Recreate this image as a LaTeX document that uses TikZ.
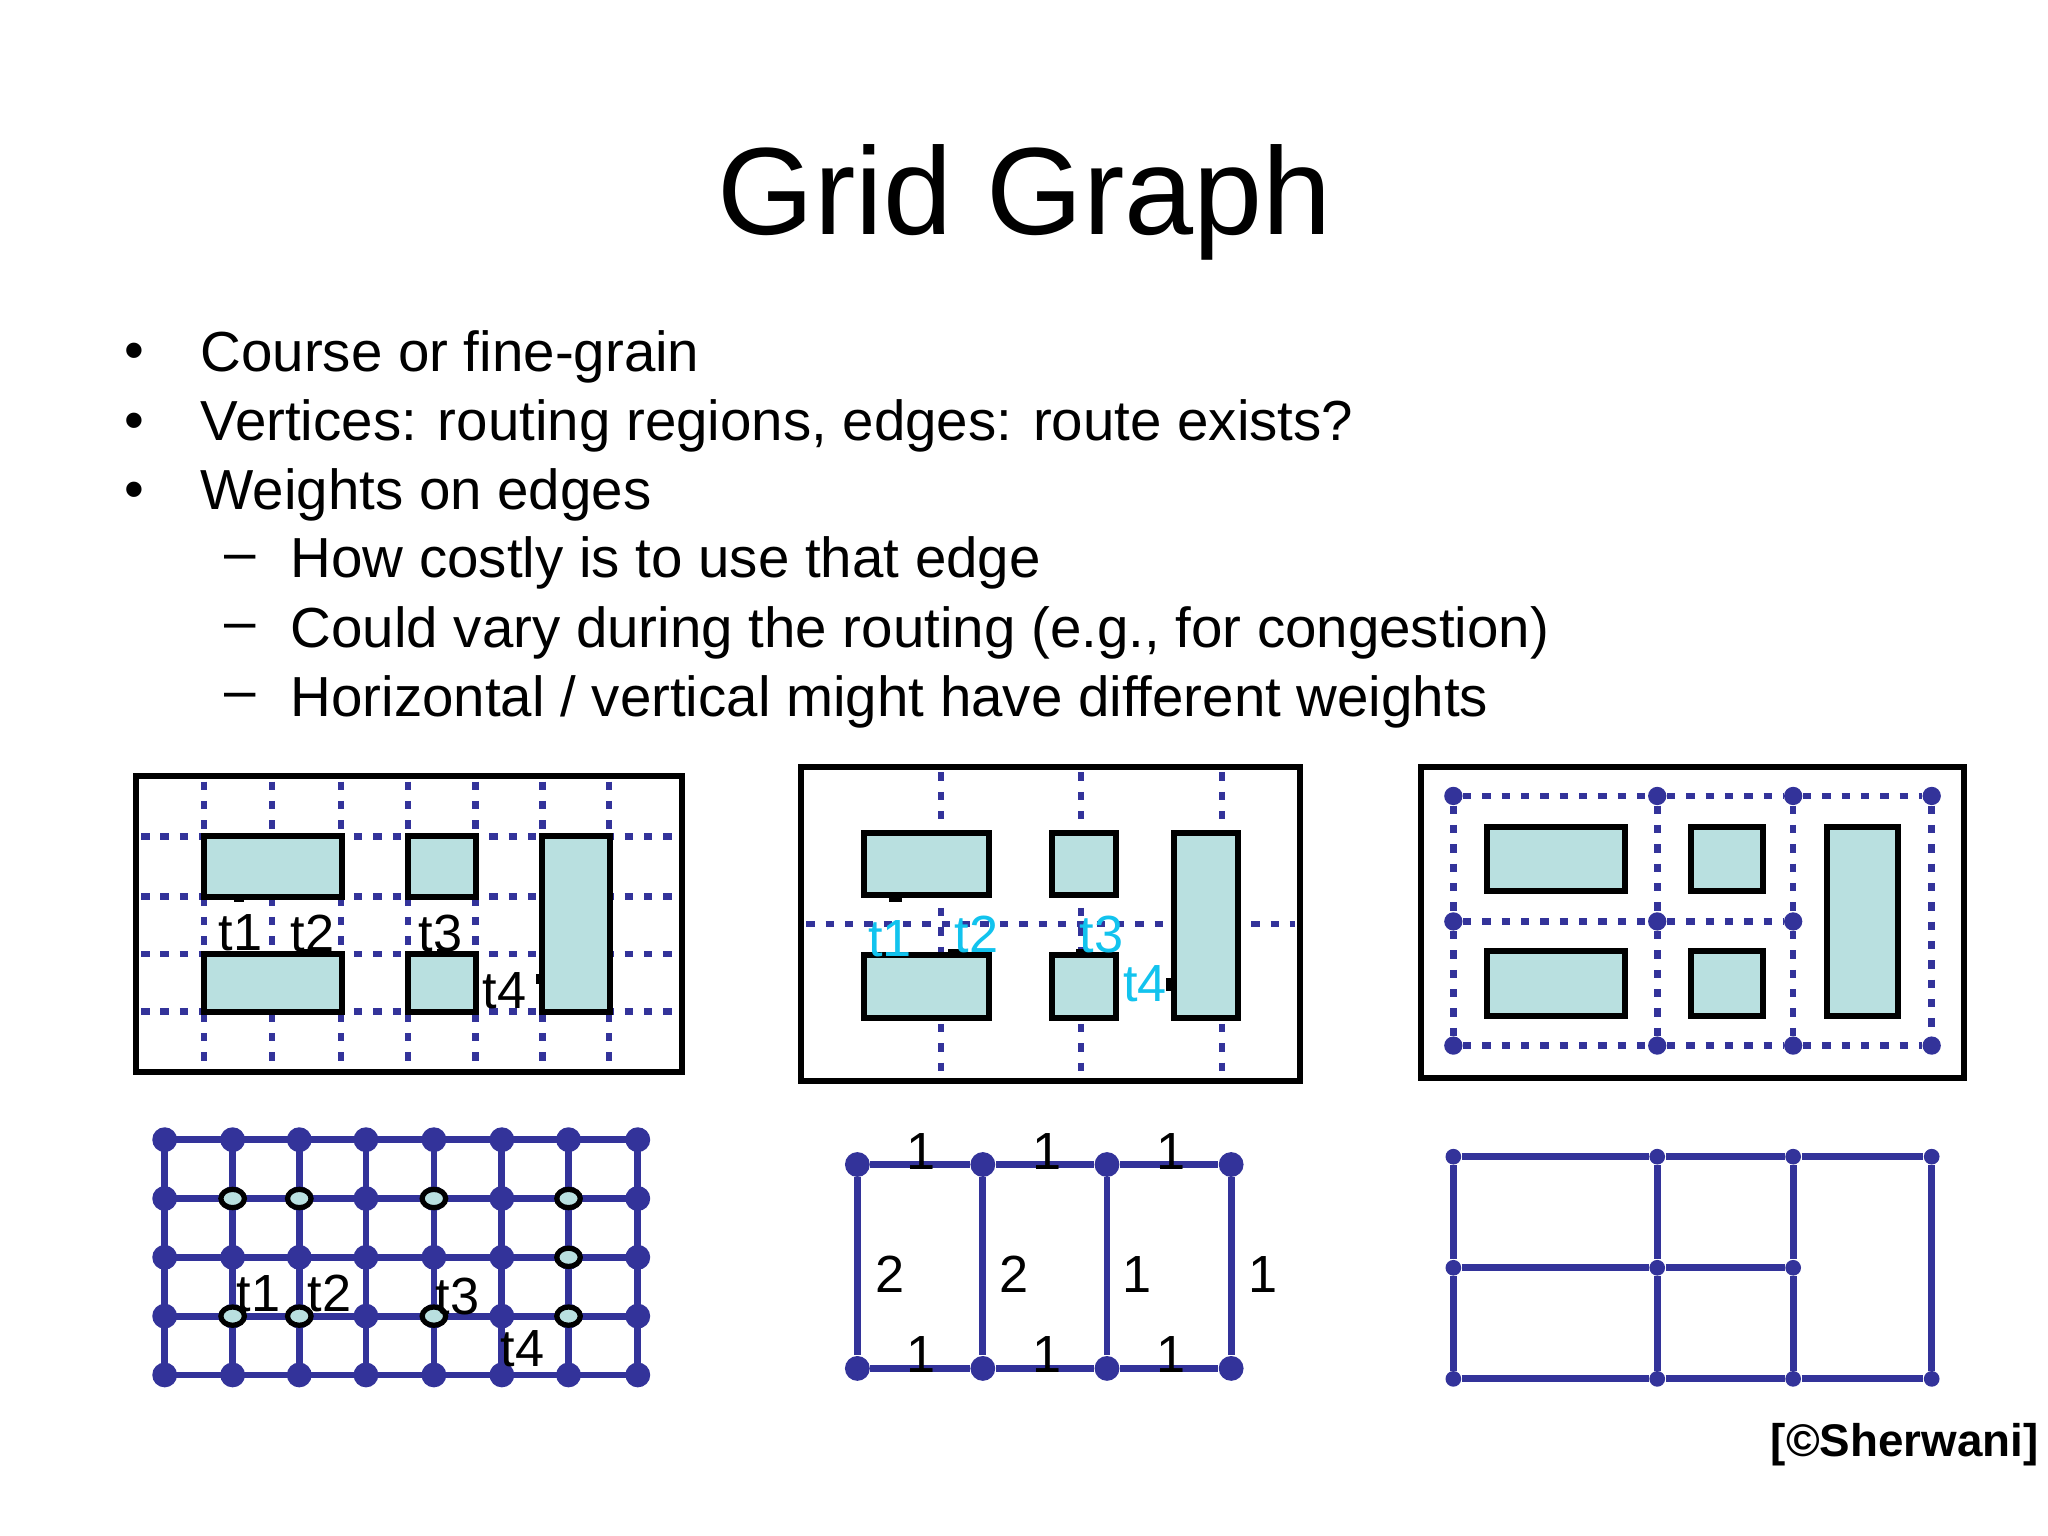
\documentclass[tikz,border=0pt]{standalone}
\usepackage{fontspec}
\setmainfont{Liberation Sans}
\usetikzlibrary{shapes.geometric}
\begin{document}
\begin{tikzpicture}[x=0.5pt,y=-0.5pt,
  dotline/.style={draw=navy,line width=2.5pt,dash pattern=on 3.2pt off 4.2pt},
  cell/.style={draw=black,line width=2.3pt,fill=cellfill},
  frame/.style={draw=black,line width=2.3pt},
  pin/.style={fill=black},
  lab/.style={font=\fontsize{20}{20}\selectfont,inner sep=0pt},
  clab/.style={lab,text=cyanlab},
  edge/.style={draw=navy,line width=2.6pt},
  bigv/.style={circle,fill=navy,minimum size=9.5pt,inner sep=0pt},
  hollow/.style={ellipse,draw=black,line width=2pt,fill=cellfill,minimum width=9pt,minimum height=7pt,inner sep=0pt},
  smallv/.style={circle,fill=navy,minimum size=7pt,inner sep=0pt},
  tinyv/.style={circle,fill=navy,minimum size=6pt,inner sep=0pt}]
\definecolor{navy}{HTML}{33339A}
\definecolor{cellfill}{HTML}{B9E0E0}
\definecolor{cyanlab}{HTML}{12C3EE}
\useasboundingbox (0,0) rectangle (1567,1175);
\fill[white] (0,0) rectangle (1567,1175);
% title and bullets
\node[font=\fontsize{47.5}{47.5}\selectfont] (title) at (784,155) {Grid Graph};
\tikzset{btxt/.style={anchor=west,font=\fontsize{21.6}{21.6}\selectfont,inner sep=0pt}}
\foreach \y/\t [count=\i] in {273/{Course or fine-grain},326/{Vertices: routing regions, edges: route exists?},379/{Weights on edges}}{
  \node[btxt] (bd\i) at (95,\y) {•};
  \node[btxt] (b\i) at (153,\y) {\t};}
\foreach \y/\t [count=\i] in {431/{How costly is to use that edge},484/{Could vary during the routing (e.g., for congestion)},537/{Horizontal / vertical might have different weights}}{
  \node[btxt] (sd\i) at (171,\y) {–};
  \node[btxt] (s\i) at (222,\y) {\t};}
% ---------- panel 1 ----------
\draw[frame] (104,594) rectangle (522,820);
\foreach \x in {156,208,261,312,364,415,466} \draw[dotline] (\x,598) -- (\x,816);
\foreach \y in {640,686,730,774} \draw[dotline] (108,\y) -- (518,\y);
\draw[cell] (156,640) rectangle (262,686);
\draw[cell] (312,640) rectangle (364,686);
\draw[cell] (415,640) rectangle (467,774);
\draw[cell] (156,730) rectangle (262,774);
\draw[cell] (312,730) rectangle (364,774);
\fill[pin] (179,686) rectangle (187,690);
\fill[pin] (228,726) rectangle (236,730);
\fill[pin] (334,726) rectangle (342,730);
\fill[pin] (410,745) rectangle (415,753);
\node[lab] (a1) at (184,714) {t1};
\node[lab] (a2) at (239,714) {t2};
\node[lab] (a3) at (337,714) {t3};
\node[lab] (a4) at (386,758) {t4};
% ---------- grid graph 1 ----------
\foreach \x [count=\i] in {126,178,229,280,332,384,435,488}
  \foreach \y [count=\j] in {872,917,962,1007,1052}
    \coordinate (g\i-\j) at (\x,\y);
\foreach \i in {1,...,8} \draw[edge] (g\i-1) -- (g\i-5);
\foreach \j in {1,...,5} \draw[edge] (g1-\j) -- (g8-\j);
\foreach \i in {1,...,8}
  \foreach \j in {1,...,5}
    \node[bigv] (v\i-\j) at (g\i-\j) {};
\foreach \p in {2-2,3-2,5-2,7-2,7-3,2-4,3-4,5-4,7-4}
  \node[hollow] (h\p) at (g\p) {};
\node[lab] (c1) at (198,990) {t1};
\node[lab] (c2) at (252,990) {t2};
\node[lab] (c3) at (350,992) {t3};
\node[lab] (c4) at (400,1032) {t4};
% ---------- panel 2 ----------
\draw[frame] (613,587) rectangle (995,827);
\foreach \x in {720,827,935} \draw[dotline] (\x,591) -- (\x,823);
\draw[dotline] (617,707) -- (991,707);
\draw[cell] (661,637) rectangle (757,685);
\draw[cell] (805,637) rectangle (854,685);
\draw[cell] (898,637) rectangle (947,779);
\draw[cell] (661,731) rectangle (757,779);
\draw[cell] (805,731) rectangle (854,779);
\fill[pin] (680,685) rectangle (690,690);
\fill[pin] (725,726) rectangle (735,731);
\fill[pin] (823,726) rectangle (833,731);
\fill[pin] (892,748) rectangle (898,758);
\node[clab] (d1) at (681,718) {t1};
\node[clab] (d2) at (747,715) {t2};
\node[clab] (d3) at (843,715) {t3};
\node[clab] (d4) at (876,753) {t4};
% ---------- graph 2 ----------
\foreach \x [count=\i] in {656,752,847,942}{
  \node[bigv] (p\i) at (\x,891) {};
  \node[bigv] (q\i) at (\x,1047) {};}
\foreach \i/\k in {1/2,2/3,3/4}{
  \draw[edge] (p\i) -- (p\k);
  \draw[edge] (q\i) -- (q\k);}
\foreach \i in {1,...,4} \draw[edge] (p\i) -- (q\i);
\foreach \x [count=\i] in {705,801,896}{
  \node[lab] (wt\i) at (\x,881) {1};
  \node[lab] (wb\i) at (\x,1036) {1};}
\foreach \x/\w [count=\i] in {681/2,776/2,870/1,966/1}
  \node[lab] (wv\i) at (\x,975) {\w};
% ---------- panel 3 ----------
\draw[frame] (1087,587) rectangle (1503,825);
\foreach \x [count=\i] in {1112,1268,1372,1478}{
  \node[smallv] (r\i-1) at (\x,609) {};
  \node[smallv] (r\i-3) at (\x,800) {};}
\foreach \x [count=\i] in {1112,1268,1372}
  \node[smallv] (r\i-2) at (\x,705) {};
\foreach \i/\k in {1/2,2/3,3/4}{
  \draw[dotline] (r\i-1) -- (r\k-1);
  \draw[dotline] (r\i-3) -- (r\k-3);}
\draw[dotline] (r1-2) -- (r2-2);
\draw[dotline] (r2-2) -- (r3-2);
\foreach \i in {1,2,3}{
  \draw[dotline] (r\i-1) -- (r\i-2);
  \draw[dotline] (r\i-2) -- (r\i-3);}
\draw[dotline] (r4-1) -- (r4-3);
\draw[cell] (1138,633) rectangle (1243,682);
\draw[cell] (1294,633) rectangle (1349,682);
\draw[cell] (1138,728) rectangle (1243,777);
\draw[cell] (1294,728) rectangle (1349,777);
\draw[cell] (1398,633) rectangle (1452,777);
% ---------- graph 3 ----------
\foreach \x [count=\i] in {1112,1268,1372,1478}{
  \node[tinyv] (s\i-1) at (\x,885) {};
  \node[tinyv] (s\i-3) at (\x,1055) {};}
\foreach \x [count=\i] in {1112,1268,1372}
  \node[tinyv] (s\i-2) at (\x,970) {};
\foreach \i/\k in {1/2,2/3,3/4}{
  \draw[edge] (s\i-1) -- (s\k-1);
  \draw[edge] (s\i-3) -- (s\k-3);}
\draw[edge] (s1-2) -- (s2-2);
\draw[edge] (s2-2) -- (s3-2);
\foreach \i in {1,2,3}{
  \draw[edge] (s\i-1) -- (s\i-2);
  \draw[edge] (s\i-2) -- (s\i-3);}
\draw[edge] (s4-1) -- (s4-3);
% credit
\node[anchor=east,font=\bfseries\fontsize{17.5}{17.5}\selectfont,inner sep=0pt] (credit) at (1560,1105) {[©Sherwani]};
\end{tikzpicture}
\end{document}
